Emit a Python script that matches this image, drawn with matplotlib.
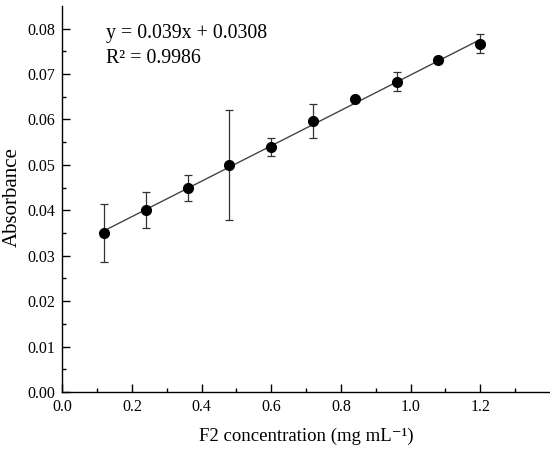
import matplotlib.pyplot as plt
import numpy as np

# concentration (mg/mL), absorbance mean and std
conc = [0.12, 0.24, 0.36, 0.48, 0.60, 0.72, 0.84, 0.96, 1.08, 1.20]
absorb = [0.0350, 0.0401, 0.0449, 0.0500, 0.0540, 0.0597, 0.0645, 0.0683, 0.0731, 0.0767]
err = [0.0063, 0.0040, 0.0029, 0.0121, 0.0020, 0.0037, 0.0004, 0.0021, 0.0007, 0.0021]

slope = 0.039
intercept = 0.0308
r2 = 0.9986

plt.rcParams['font.family'] = ['Liberation Serif', 'DejaVu Serif']

fig = plt.figure(figsize=(5.5, 4.54), dpi=100)
ax = fig.add_axes([0.113, 0.1366, 0.887, 0.8504])

xfit = np.array([conc[0], conc[-1]])
ax.plot(xfit, slope * xfit + intercept, color='#444444', lw=1.0, zorder=1)
ax.errorbar(conc, absorb, yerr=err, fmt='o', color='black', ms=7,
            ecolor='#333333', elinewidth=0.9, capsize=3, capthick=0.9, zorder=2)

ax.text(0.126, 0.0790, 'y = 0.039x + 0.0308', fontsize=14.3, va='center')
ax.text(0.126, 0.0735, 'R² = %.4f' % r2, fontsize=14.3, va='center')

ax.set_xlim(0, 1.4)
ax.set_ylim(0, 0.085)
ax.set_xticks(np.arange(0, 1.21, 0.2))
ax.set_xticks(np.arange(0.1, 1.4, 0.2), minor=True)
ax.set_yticks(np.arange(0, 0.081, 0.01))
ax.set_yticks(np.arange(0.005, 0.085, 0.01), minor=True)
ax.xaxis.set_major_formatter(plt.FormatStrFormatter('%.1f'))
ax.yaxis.set_major_formatter(plt.FormatStrFormatter('%.2f'))

for s in ['top', 'right']:
    ax.spines[s].set_visible(False)
for s in ['left', 'bottom']:
    ax.spines[s].set_linewidth(1.0)
ax.tick_params(which='major', direction='in', length=6, width=1.0, labelsize=11.5, pad=5)
ax.tick_params(which='minor', direction='in', length=3, width=1.0)

ax.set_xlabel('F2 concentration (mg mL⁻¹)', fontsize=13.5, labelpad=9)
ax.set_ylabel('Absorbance', fontsize=15)
ax.yaxis.set_label_coords(-0.082, 0.506)

fig.savefig('out.png', dpi=100)
